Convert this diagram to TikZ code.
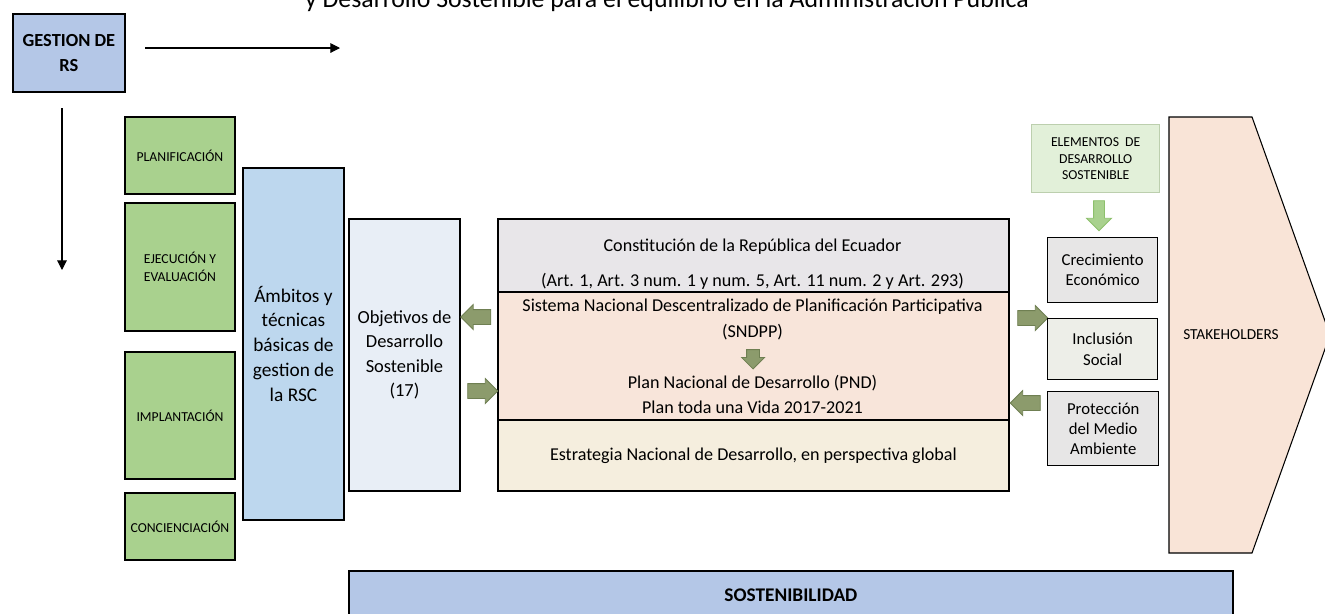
\documentclass[tikz,border=0pt]{standalone}
\usepackage{fontspec}
\setmainfont{Carlito}
\usetikzlibrary{shapes.arrows,arrows.meta}

\definecolor{gestblue}{HTML}{B4C7E7}
\definecolor{etapagreen}{HTML}{A9D18E}
\definecolor{ambblue}{HTML}{BDD7EE}
\definecolor{objblue}{HTML}{E8EEF6}
\definecolor{constgray}{HTML}{E8E6E9}
\definecolor{sndpeach}{HTML}{F8E5DA}
\definecolor{estcream}{HTML}{F5EEDE}
\definecolor{olivefill}{HTML}{8C9B6C}
\definecolor{olivedraw}{HTML}{6F7F52}
\definecolor{elemgreen}{HTML}{E2F0D9}
\definecolor{elemdraw}{HTML}{BCCFAE}
\definecolor{arrowgreen}{HTML}{A9D18E}
\definecolor{arrowgreendraw}{HTML}{8DC06C}
\definecolor{pilargray}{HTML}{E7E6E6}
\definecolor{inclgray}{HTML}{EDEEE8}
\definecolor{stakepeach}{HTML}{F9E4D7}

\tikzset{
  box/.style={draw, line width=1.1pt, inner sep=0pt, align=center, anchor=north west},
  thinbox/.style={draw, line width=0.8pt, inner sep=0pt, align=center, anchor=north west},
  etapa/.style={box, fill=etapagreen, minimum width=2.2cm, font=\fontsize{7.8}{10}\selectfont},
  pilar/.style={thinbox, minimum width=2.2cm, font=\fontsize{9.5}{11.5}\selectfont},
  blockarrow/.style={single arrow, draw=olivedraw, fill=olivefill, line width=0.5pt,
    minimum height=0.6cm, minimum width=0.48cm, inner sep=0.14cm, single arrow head extend=0.1cm},
  maintext/.style={font=\fontsize{10.3}{12}\selectfont}
}

\begin{document}
\begin{tikzpicture}[x=0.02cm,y=-0.02cm]
\useasboundingbox (0,0) rectangle (1325,613);

% titulo (cortado arriba)
\node[anchor=base, font=\fontsize{14.7}{16}\selectfont] (titulo) at (667,7)
  {y Desarrollo Sostenible para el equilibrio en la Administración Pública};

% gestion de RS
\node[box, fill=gestblue, minimum width=2.24cm, minimum height=1.56cm,
  font=\bfseries\fontsize{10.5}{13.8}\selectfont] (gestion) at (12,13) {GESTION DE\\RS};
\coordinate (hstart) at (145,48);
\coordinate (hend) at (340,48);
\coordinate (vstart) at (62,108);
\coordinate (vend) at (62,270);
\draw[line width=0.6pt, -{Triangle[width=5.5pt,length=5.5pt]}] (hstart) -- (hend);
\draw[line width=0.6pt, -{Triangle[width=5.5pt,length=5.5pt]}] (vstart) -- (vend);

% etapas
\node[etapa, minimum height=1.54cm] (planif) at (124,116) {PLANIFICACIÓN};
\node[etapa, minimum height=2.56cm] (ejec) at (124,202) {EJECUCIÓN Y\\EVALUACIÓN};
\node[etapa, minimum height=2.54cm] (impl) at (124,351) {IMPLANTACIÓN};
\node[etapa, minimum height=1.34cm] (conc) at (124,492) {CONCIENCIACIÓN};

% ambitos y objetivos
\node[box, fill=ambblue, minimum width=2.02cm, minimum height=7.04cm,
  font=\fontsize{11}{14.2}\selectfont] (ambitos) at (242,167)
  {Ámbitos y\\técnicas\\básicas de\\gestion de\\la RSC};
\node[box, fill=objblue, minimum width=2.22cm, minimum height=5.44cm,
  font=\fontsize{10.5}{14}\selectfont] (objetivos) at (348,218)
  {Objetivos de\\Desarrollo\\Sostenible\\(17)};

% bloque central
\node[box, fill=constgray, minimum width=10.22cm, minimum height=1.46cm] (constit) at (497,218) {};
\node[box, fill=sndpeach, minimum width=10.22cm, minimum height=2.56cm] (sndpp) at (497,291) {};
\node[box, fill=estcream, minimum width=10.22cm, minimum height=1.42cm, maintext] (estrat) at (497,419)
  {Estrategia Nacional de Desarrollo, en perspectiva global};
\node[maintext] (constxt) at (752.5,247) {Constitución de la República del Ecuador};
\node[maintext] (arttxt) at (752.5,281) {(Art. 1, Art. 3 num. 1 y num. 5, Art. 11 num. 2 y Art. 293)};
\node[maintext] (sndtxt) at (752.5,307) {Sistema Nacional Descentralizado de Planificación Participativa};
\node[maintext] (sndsig) at (752.5,332) {(SNDPP)};
\node[blockarrow, shape border rotate=270, minimum height=0.36cm, minimum width=0.44cm,
  inner sep=0.12cm] (bajada) at (753,356) {};
\node[maintext] (pndtxt) at (752.5,383) {Plan Nacional de Desarrollo (PND)};
\node[maintext] (vidatxt) at (752.5,407) {Plan toda una Vida 2017-2021};

% flechas de bloque
\node[blockarrow, shape border rotate=180] (flobj) at (479.5,317) {};
\node[blockarrow] (frobj) at (479,391) {};
\node[blockarrow] (frpil) at (1029,318) {};
\node[blockarrow, shape border rotate=180] (flpil) at (1029,403) {};

% elementos de desarrollo sostenible
\node[thinbox, draw=elemdraw, fill=elemgreen, minimum width=2.56cm, minimum height=1.36cm,
  font=\fontsize{7.8}{9.4}\selectfont] (elementos) at (1031,124)
  {ELEMENTOS~~DE\\DESARROLLO\\SOSTENIBLE};
\node[single arrow, shape border rotate=270, draw=arrowgreendraw, fill=arrowgreen, line width=0.5pt,
  minimum height=0.6cm, minimum width=0.48cm, inner sep=0.1cm, single arrow head extend=0.14cm]
  (bajaelem) at (1099,213) {};
\node[pilar, fill=pilargray, minimum height=1.3cm] (crec) at (1047,237) {Crecimiento\\Económico};
\node[pilar, fill=inclgray, minimum height=1.22cm] (incl) at (1047,318) {Inclusión\\Social};
\node[pilar, fill=pilargray, minimum width=2.22cm, minimum height=1.48cm] (prot) at (1047,391)
  {Protección\\del Medio\\Ambiente};

% stakeholders
\draw[fill=stakepeach, line width=0.6pt] (1169,117) -- (1252,117) -- (1330,335) -- (1252,553)
  -- (1169,553) -- cycle;
\node[font=\fontsize{8.7}{10}\selectfont] (stake) at (1231,335) {STAKEHOLDERS};

% sostenibilidad
\node[box, fill=gestblue, minimum width=17.68cm, minimum height=0.96cm,
  font=\bfseries\fontsize{11}{12}\selectfont] (sost) at (348,570) {SOSTENIBILIDAD};
\end{tikzpicture}
\end{document}
